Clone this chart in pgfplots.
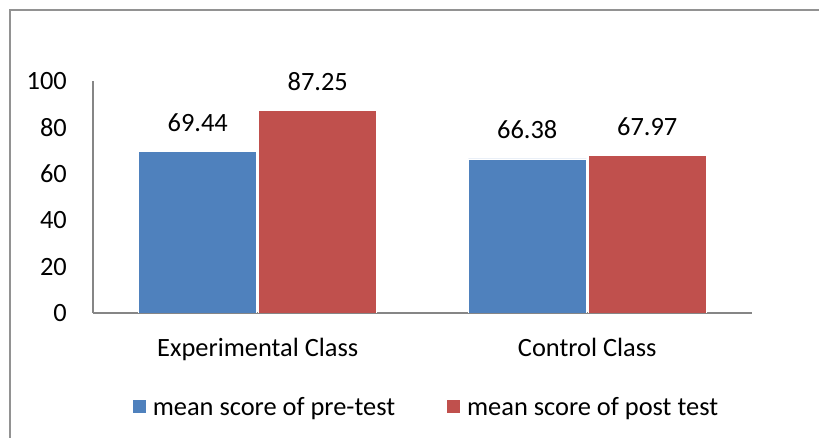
\documentclass[border=0pt]{standalone}
\usepackage{fontspec}
\setmainfont{Carlito}
\usepackage{pgfplots}
\pgfplotsset{compat=1.18}
\definecolor{cblue}{HTML}{4F81BD}
\definecolor{cred}{HTML}{C0504D}
\definecolor{axgray}{HTML}{868686}
\newcommand{\fs}{\fontsize{26.4pt}{31pt}\selectfont}
\begin{document}
\begin{tikzpicture}[x=1pt,y=1pt]
\useasboundingbox (0,0) rectangle (819,438);
\draw[axgray!90, line width=1.8pt] (10,-2) -- (10,428) -- (821,428);
\begin{axis}[
  at={(93pt,125pt)}, anchor=south west,
  scale only axis, width=659pt, height=232pt,
  xmin=-0.5, xmax=1.5, ymin=0, ymax=100,
  axis x line*=bottom, axis y line*=left,
  axis line style={axgray, line width=1.5pt, -},
  major tick length=0pt,
  xtick={0,1}, xticklabels={Experimental Class, Control Class},
  ytick={0,20,40,60,80,100},
  /pgf/number format/assume math mode=true,
  tick label style={font=\fs},
  yticklabel style={inner sep=0pt, xshift=-26pt},
  xticklabel style={anchor=base, inner sep=0pt, yshift=-44pt},
  ybar, bar width=118pt,
  nodes near coords={\pgfmathprintnumber[fixed,fixed zerofill,precision=2]{\pgfplotspointmeta}},
  every node near coord/.append style={font=\fs, anchor=base, inner sep=0pt, yshift=20pt, text=black},
  legend columns=2,
  legend style={at={(0.5045,-0.405)}, anchor=center, draw=none, font=\fs,
    nodes={inner sep=0pt},
    /tikz/every odd column/.append style={column sep=7pt},
    /tikz/every even column/.append style={column sep=52pt}},
  legend image code/.code={\path[#1,draw=none] (0pt,-6.5pt) rectangle (13pt,6.5pt);},
]
\addplot[fill=cblue, draw=white, line width=0.8pt, bar shift=-60pt] coordinates {(0,69.44) (1,66.38)};
\addplot[fill=cred, draw=white, line width=0.8pt, bar shift=60pt] coordinates {(0,87.25) (1,67.97)};
\legend{mean score of pre-test, mean score of post test}
\end{axis}
\end{tikzpicture}
\end{document}
